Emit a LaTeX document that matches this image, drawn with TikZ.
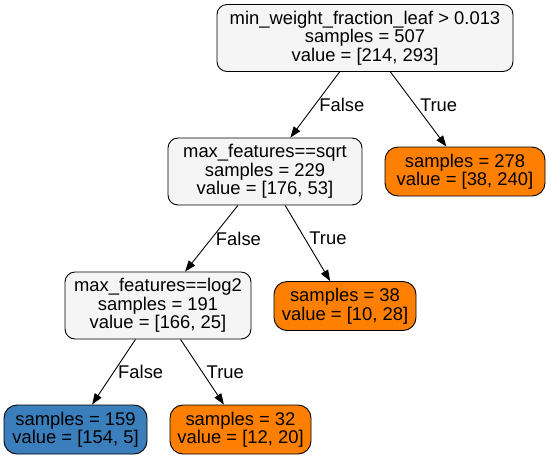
\documentclass[tikz,border=0pt]{standalone}
\usepackage{fontspec}
\setmainfont{Liberation Sans}
\usetikzlibrary{arrows.meta}
\definecolor{splitgrey}{HTML}{F5F5F5}
\definecolor{leaforange}{HTML}{FF8000}
\definecolor{leafblue}{HTML}{3A7EBB}

\begin{document}
\begin{tikzpicture}[x=1pt, y=-1pt, line width=0.9pt, >={Triangle[length=11pt,width=8pt]},
  split/.style = {draw, rounded corners=10pt, fill=splitgrey, align=center, inner xsep=6pt, inner ysep=6pt, minimum height=67pt, font=\fontsize{18.4}{18.5}\selectfont},
  leaf/.style = {split, rounded corners=13pt, minimum height=49pt},
  lbl/.style = {anchor=west, inner sep=4pt, font=\fontsize{18.4}{18.5}\selectfont}]
\useasboundingbox (0,0) rectangle (551,459);
\node[split, minimum width=296pt] (root) at (365,38) {min\_weight\_fraction\_leaf > 0.013\\samples = 507\\value = [214, 293]};
\node[split, minimum width=194pt] (sqrt) at (265,171.5) {max\_features==sqrt\\samples = 229\\value = [176, 53]};
\node[leaf, minimum width=160pt, fill=leaforange] (l278) at (465,171.5) {samples = 278\\value = [38, 240]};
\node[split, minimum width=186pt] (log2) at (158,305.5) {max\_features==log2\\samples = 191\\value = [166, 25]};
\node[leaf, minimum width=142pt, fill=leaforange] (l38) at (345,306) {samples = 38\\value = [10, 28]};
\node[leaf, minimum width=143pt, fill=leafblue] (l159) at (75.5,429.5) {samples = 159\\value = [154, 5]};
\node[leaf, minimum width=141pt, fill=leaforange] (l32) at (240.5,429.5) {samples = 32\\value = [12, 20]};
\draw[->] (root) -- node[lbl] {False} (sqrt);
\draw[->] (root) -- node[lbl, pos=0.45] {True} (l278);
\draw[->] (sqrt) -- node[lbl] {False} (log2);
\draw[->] (sqrt) -- node[lbl, pos=0.44] {True} (l38);
\draw[->] (log2) -- node[lbl] {False} (l159);
\draw[->] (log2) -- node[lbl] {True} (l32);
\end{tikzpicture}
\end{document}
